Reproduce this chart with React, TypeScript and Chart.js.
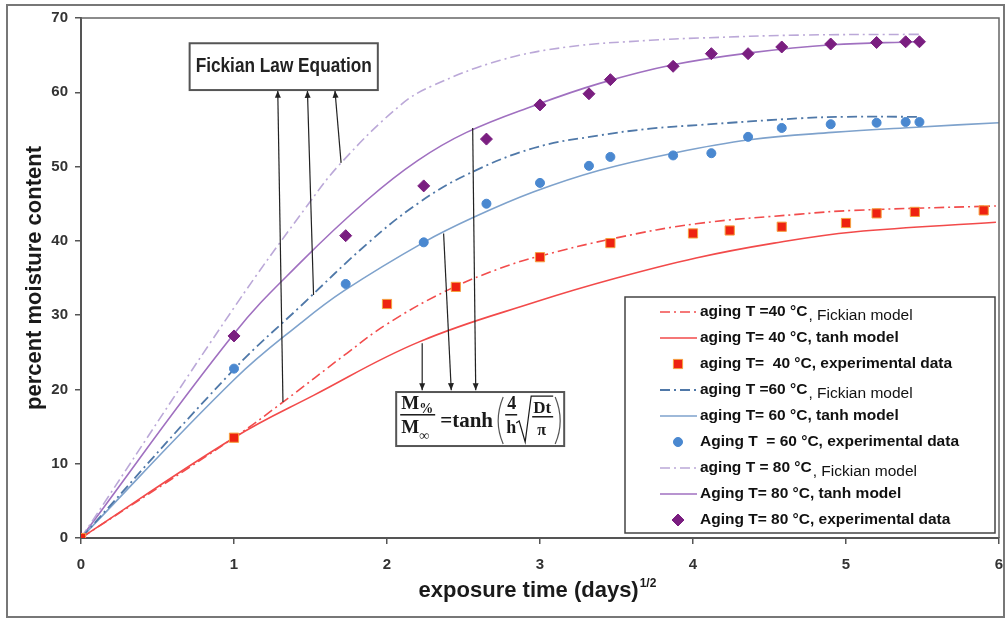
import React, { useEffect, useRef } from 'react';
import { Chart, registerables } from 'chart.js';

Chart.register(...registerables);

// ---------- data ----------
const xTickValues = [0, 1, 2, 3, 4, 5, 6];
const yTickValues = [0, 10, 20, 30, 40, 50, 60, 70];

// 40 °C
const fick40X = [0, 1, 1.32, 1.74, 2.0, 2.39, 2.74, 2.99, 3.5, 4.02, 4.7, 5.05, 5.98];
const fick40Y = [0, 13.5, 18.3, 24.9, 28.8, 33.3, 36.3, 37.9, 40.4, 42.3, 43.6, 44.1, 44.7];
const tanh40X = [0, 1, 1.52, 2.21, 2.99, 3.5, 4.02, 4.53, 5.05, 5.98];
const tanh40Y = [0, 13.5, 19.2, 26.4, 31.9, 35.0, 37.7, 39.7, 41.2, 42.5];
const exp40X = [0, 1, 2, 2.45, 3, 3.46, 4, 4.24, 4.58, 5, 5.2, 5.45, 5.9];
const exp40Y = [0, 13.5, 31.5, 33.8, 37.8, 39.7, 41.0, 41.4, 41.9, 42.4, 43.7, 43.9, 44.1];

// 60 °C
const fick60X = [0, 1, 1.44, 1.87, 2.2, 2.52, 2.96, 3.39, 3.72, 4.04, 4.7, 5.0, 5.48];
const fick60Y = [0, 22.7, 31.3, 39.6, 45.0, 48.9, 52.5, 54.2, 55.1, 55.6, 56.5, 56.7, 56.7];
const tanh60X = [0, 1, 1.44, 1.72, 2.24, 2.57, 2.96, 3.39, 3.87, 4.37, 4.91, 5.46, 6.0];
const tanh60Y = [0, 21.3, 29.0, 33.3, 39.8, 43.2, 46.6, 49.5, 51.8, 53.6, 54.6, 55.3, 55.9];
const exp60X = [0, 1, 1.73, 2.24, 2.65, 3, 3.32, 3.46, 3.87, 4.12, 4.36, 4.58, 4.9, 5.2, 5.39, 5.48];
const exp60Y = [0, 22.8, 34.2, 39.8, 45.0, 47.8, 50.1, 51.3, 51.5, 51.8, 54.0, 55.2, 55.7, 55.9, 56.0, 56.0];

// 80 °C
const fick80X = [0, 1, 1.47, 1.7, 2.09, 2.3, 2.74, 3.18, 3.72, 4.04, 4.7, 5.48];
const fick80Y = [0, 31.0, 44.5, 50.5, 58.3, 60.9, 64.3, 66.1, 67.0, 67.3, 67.7, 67.8];
const tanh80X = [0, 1, 1.44, 1.87, 2.2, 2.52, 2.96, 3.39, 3.87, 4.37, 4.91, 5.46];
const tanh80Y = [0, 27.5, 37.2, 45.5, 50.8, 54.6, 58.2, 61.2, 63.7, 65.3, 66.4, 66.8];
const exp80X = [0, 1, 1.73, 2.24, 2.65, 3, 3.32, 3.46, 3.87, 4.12, 4.36, 4.58, 4.9, 5.2, 5.39, 5.48];
const exp80Y = [0, 27.2, 40.7, 47.4, 53.7, 58.3, 59.8, 61.7, 63.5, 65.2, 65.2, 66.1, 66.5, 66.7, 66.8, 66.8];

// legend texts: [bold part, normal part]
const legendLabels: [string, string][] = [
  ['aging T =40 °C', ', Fickian model'],
  ['aging T= 40 °C, tanh model', ''],
  ['aging T=  40 °C, experimental data', ''],
  ['aging T =60 °C', ', Fickian model'],
  ['aging T= 60 °C, tanh model', ''],
  ['Aging T  = 60 °C, experimental data', ''],
  ['aging T = 80 °C', ', Fickian model'],
  ['Aging T= 80 °C, tanh model', ''],
  ['Aging T= 80 °C, experimental data', ''],
];

const xTitle = 'exposure time (days)';
const xTitleSup = '1/2';
const yTitle = 'percent moisture content';
const boxTitle = 'Fickian Law Equation';

// annotation placement (data units)
const fickBox = { x0: 0.71, x1: 1.94, y0: 66.6, y1: 60.3 };
const fickArrows = [
  { from: [1.32, 18.3], to: [1.286, 60.2] },
  { from: [1.52, 32.7], to: [1.48, 60.2] },
  { from: [1.7, 50.5], to: [1.66, 60.2] },
];
const eqBox = { x0: 2.06, y0: 19.65 };
const tanhArrows = [
  { from: [2.23, 26.2], to: [2.23, 19.9] },
  { from: [2.37, 41.0], to: [2.42, 19.9] },
  { from: [2.56, 55.2], to: [2.58, 19.9] },
];

const SANS = "'Liberation Sans', Arial, Helvetica, sans-serif";
const SERIF = "'Liberation Serif', 'Times New Roman', 'DejaVu Serif', serif";
const DASHDOT = [10, 4, 2, 4];

const pts = (xs: number[], ys: number[]) => xs.map((x, i) => ({ x, y: ys[i] }));

const lineDs = (xs: number[], ys: number[], color: string, dashed: boolean, width = 1.6) => ({
  data: pts(xs, ys),
  showLine: true,
  borderColor: color,
  backgroundColor: color,
  borderWidth: width,
  borderDash: dashed ? DASHDOT : [],
  pointRadius: 0,
  pointHoverRadius: 0,
  tension: 0.4,
  order: 1,
});

const pointDs = (xs: number[], ys: number[], fill: string, border: string, style: string, radius: number) => ({
  data: pts(xs, ys),
  showLine: false,
  pointStyle: style,
  pointRadius: radius,
  pointHoverRadius: radius,
  pointBackgroundColor: fill,
  pointBorderColor: border,
  pointBorderWidth: 1,
  backgroundColor: fill,
  borderColor: border,
  order: 0,
});

function drawArrow(ctx: CanvasRenderingContext2D, x1: number, y1: number, x2: number, y2: number) {
  ctx.beginPath();
  ctx.moveTo(x1, y1);
  ctx.lineTo(x2, y2);
  ctx.stroke();
  const a = Math.atan2(y2 - y1, x2 - x1);
  const L = 7, W = 3;
  ctx.beginPath();
  ctx.moveTo(x2, y2);
  ctx.lineTo(x2 - L * Math.cos(a) + W * Math.sin(a), y2 - L * Math.sin(a) - W * Math.cos(a));
  ctx.lineTo(x2 - L * Math.cos(a) - W * Math.sin(a), y2 - L * Math.sin(a) + W * Math.cos(a));
  ctx.closePath();
  ctx.fill();
}

function drawMarker(ctx: CanvasRenderingContext2D, style: string, x: number, y: number, r: number, fill: string, border: string) {
  ctx.fillStyle = fill;
  ctx.strokeStyle = border;
  ctx.lineWidth = 1;
  ctx.beginPath();
  if (style === 'rect') {
    const s = r * Math.SQRT1_2;
    ctx.rect(x - s, y - s, 2 * s, 2 * s);
  } else if (style === 'rectRot') {
    ctx.moveTo(x, y - r);
    ctx.lineTo(x + r, y);
    ctx.lineTo(x, y + r);
    ctx.lineTo(x - r, y);
    ctx.closePath();
  } else {
    ctx.arc(x, y, r, 0, Math.PI * 2);
  }
  ctx.fill();
  ctx.stroke();
}

function drawEquation(ctx: CanvasRenderingContext2D, bx: number, by: number) {
  const w = 168, h = 54;
  ctx.fillStyle = '#fff';
  ctx.fillRect(bx, by, w, h);
  ctx.strokeStyle = '#555';
  ctx.lineWidth = 2;
  ctx.strokeRect(bx, by, w, h);
  ctx.fillStyle = '#1a1a1a';
  ctx.textAlign = 'left';
  ctx.textBaseline = 'alphabetic';
  ctx.font = `bold 19px ${SERIF}`;
  ctx.fillText('M', bx + 5, by + 17);
  ctx.fillText('M', bx + 5, by + 41);
  ctx.font = `bold 14px ${SERIF}`;
  ctx.fillText('%', bx + 23, by + 21);
  ctx.fillText('∞', bx + 23, by + 48);
  ctx.fillRect(bx + 4, by + 22, 35, 1.5);
  ctx.font = `bold 21px ${SERIF}`;
  ctx.fillText('=tanh', bx + 44, by + 35);
  // parentheses
  ctx.strokeStyle = '#555';
  ctx.lineWidth = 1.2;
  ctx.beginPath();
  ctx.moveTo(bx + 107, by + 5);
  ctx.quadraticCurveTo(bx + 97, by + 29, bx + 107, by + 52);
  ctx.stroke();
  ctx.beginPath();
  ctx.moveTo(bx + 159, by + 5);
  ctx.quadraticCurveTo(bx + 169, by + 29, bx + 159, by + 52);
  ctx.stroke();
  // 4/h
  ctx.font = `bold 18px ${SERIF}`;
  ctx.fillText('4', bx + 111, by + 17);
  ctx.fillText('h', bx + 110, by + 41);
  ctx.fillRect(bx + 109, by + 22, 12, 1.5);
  // radical
  ctx.strokeStyle = '#1a1a1a';
  ctx.lineWidth = 1.2;
  ctx.beginPath();
  ctx.moveTo(bx + 120, by + 31);
  ctx.lineTo(bx + 123, by + 29);
  ctx.lineTo(bx + 129, by + 50);
  ctx.lineTo(bx + 135, by + 4);
  ctx.lineTo(bx + 157, by + 4);
  ctx.stroke();
  ctx.font = `bold 17px ${SERIF}`;
  ctx.fillText('Dt', bx + 137, by + 21);
  ctx.fillRect(bx + 136, by + 24, 21, 1.5);
  ctx.font = `bold 16px ${SERIF}`;
  ctx.fillText('π', bx + 141, by + 43);
}

const overlayPlugin = {
  id: 'overlay',
  afterDraw(chart: any) {
    const { ctx, chartArea: ca, scales } = chart;
    const xs = scales.x, ys = scales.y;
    const px = (v: number) => xs.getPixelForValue(v);
    const py = (v: number) => ys.getPixelForValue(v);
    ctx.save();

    // plot-area border (top and right)
    ctx.strokeStyle = '#666';
    ctx.lineWidth = 1.5;
    ctx.beginPath();
    ctx.moveTo(ca.left, ca.top);
    ctx.lineTo(ca.right, ca.top);
    ctx.lineTo(ca.right, ca.bottom);
    ctx.stroke();

    // arrows
    ctx.strokeStyle = '#222';
    ctx.fillStyle = '#222';
    ctx.lineWidth = 1.2;
    [...fickArrows, ...tanhArrows].forEach((a) => {
      drawArrow(ctx, px(a.from[0]), py(a.from[1]), px(a.to[0]), py(a.to[1]));
    });

    // Fickian Law Equation box
    const fx0 = px(fickBox.x0), fx1 = px(fickBox.x1), fy0 = py(fickBox.y0), fy1 = py(fickBox.y1);
    ctx.fillStyle = '#fff';
    ctx.fillRect(fx0, fy0, fx1 - fx0, fy1 - fy0);
    ctx.strokeStyle = '#555';
    ctx.lineWidth = 2;
    ctx.strokeRect(fx0, fy0, fx1 - fx0, fy1 - fy0);
    ctx.fillStyle = '#222';
    ctx.font = `bold 21px ${SANS}`;
    ctx.textAlign = 'center';
    ctx.textBaseline = 'alphabetic';
    ctx.fillText(boxTitle, (fx0 + fx1) / 2, fy0 + 28.5, fx1 - fx0 - 12);

    // equation box
    drawEquation(ctx, px(eqBox.x0), py(eqBox.y0));

    // legend
    const lx = ca.right - 374, ly = ca.bottom - 241, lw = 370, lh = 236;
    ctx.fillStyle = '#fff';
    ctx.fillRect(lx, ly, lw, lh);
    ctx.strokeStyle = '#444';
    ctx.lineWidth = 1.5;
    ctx.strokeRect(lx, ly, lw, lh);
    const dsets = chart.data.datasets;
    legendLabels.forEach((lab, i) => {
      const ds = dsets[i];
      const cy = ly + 15 + i * 26;
      if (ds.showLine) {
        ctx.strokeStyle = ds.borderColor;
        ctx.lineWidth = ds.borderWidth;
        ctx.setLineDash(ds.borderDash || []);
        ctx.beginPath();
        ctx.moveTo(lx + 35, cy);
        ctx.lineTo(lx + 72, cy);
        ctx.stroke();
        ctx.setLineDash([]);
      } else {
        drawMarker(ctx, ds.pointStyle, lx + 53, cy, ds.pointRadius, ds.pointBackgroundColor, ds.pointBorderColor);
      }
      ctx.fillStyle = '#111';
      ctx.textAlign = 'left';
      ctx.textBaseline = 'middle';
      ctx.font = `bold 15.5px ${SANS}`;
      ctx.fillText(lab[0], lx + 75, cy);
      if (lab[1]) {
        const w = ctx.measureText(lab[0]).width;
        ctx.font = `15.5px ${SANS}`;
        ctx.fillText(lab[1], lx + 75 + w + 1, cy + 4);
      }
    });

    // x-axis title with superscript
    ctx.fillStyle = '#1a1a1a';
    ctx.textBaseline = 'alphabetic';
    ctx.textAlign = 'left';
    ctx.font = `bold 22px ${SANS}`;
    const mw = ctx.measureText(xTitle).width;
    ctx.font = `bold 12px ${SANS}`;
    const sw = ctx.measureText(xTitleSup).width;
    const tx = (ca.left + ca.right) / 2 - 3 - (mw + sw) / 2;
    ctx.font = `bold 22px ${SANS}`;
    ctx.fillText(xTitle, tx, 597);
    ctx.font = `bold 12px ${SANS}`;
    ctx.fillText(xTitleSup, tx + mw + 1, 587);

    // outer frame
    ctx.strokeStyle = '#777';
    ctx.lineWidth = 2;
    ctx.strokeRect(7, 5, 997, 612);
    ctx.restore();
  },
};

export default function App() {
  const ref = useRef<HTMLCanvasElement | null>(null);

  useEffect(() => {
    document.body.style.margin = '0';
    document.body.style.overflow = 'hidden';
    const canvas = ref.current;
    if (!canvas) return;

    const datasets: any[] = [
      lineDs(fick40X, fick40Y, '#F24C4C', true),
      lineDs(tanh40X, tanh40Y, '#F24A4A', false),
      pointDs(exp40X, exp40Y, '#EE2211', '#F5A040', 'rect', 6.5),
      lineDs(fick60X, fick60Y, '#4F78A8', true, 1.8),
      lineDs(tanh60X, tanh60Y, '#7EA2CC', false),
      pointDs(exp60X, exp60Y, '#4A88D0', '#4A88D0', 'circle', 4.5),
      lineDs(fick80X, fick80Y, '#BBA8D8', true),
      lineDs(tanh80X, tanh80Y, '#A070C0', false),
      pointDs(exp80X, exp80Y, '#7A1E80', '#7A1E80', 'rectRot', 6),
    ];

    const tickFont = { family: SANS, size: 15, weight: 'bold' as const };

    const chart = new Chart(canvas, {
      type: 'scatter',
      data: { datasets },
      options: {
        animation: false,
        responsive: false,
        maintainAspectRatio: false,
        events: [],
        layout: { padding: { top: 18, right: 9, left: 0, bottom: 0 } },
        plugins: { legend: { display: false }, tooltip: { enabled: false } },
        scales: {
          x: {
            type: 'linear',
            min: 0,
            max: 6,
            afterBuildTicks: (s: any) => {
              s.ticks = xTickValues.map((v) => ({ value: v }));
            },
            afterFit: (s: any) => {
              s.height = 83;
              s.paddingLeft = 0;
              s.paddingRight = 0;
            },
            ticks: { font: tickFont, color: '#333', padding: 12, maxRotation: 0 },
            grid: { display: true, drawOnChartArea: false, drawTicks: true, tickLength: 6, color: '#555', lineWidth: 1.5 },
            border: { display: true, color: '#555', width: 2 },
          },
          y: {
            type: 'linear',
            min: 0,
            max: 70,
            afterBuildTicks: (s: any) => {
              s.ticks = yTickValues.map((v) => ({ value: v }));
            },
            afterFit: (s: any) => {
              s.width = 81;
              s.paddingTop = 0;
              s.paddingBottom = 0;
            },
            ticks: { font: tickFont, color: '#333', padding: 7 },
            grid: { display: true, drawOnChartArea: false, drawTicks: true, tickLength: 6, color: '#555', lineWidth: 1.5 },
            border: { display: true, color: '#555', width: 2 },
            title: {
              display: true,
              text: yTitle,
              color: '#1a1a1a',
              font: { family: SANS, size: 22, weight: 'bold' },
              padding: { top: 22, bottom: 0 },
            },
          },
        },
      },
      plugins: [overlayPlugin],
    } as any);

    return () => chart.destroy();
  }, []);

  return (
    <div style={{ width: 1008, height: 621, background: '#fff' }}>
      <canvas ref={ref} width={1008} height={621} style={{ display: 'block' }} />
    </div>
  );
}
